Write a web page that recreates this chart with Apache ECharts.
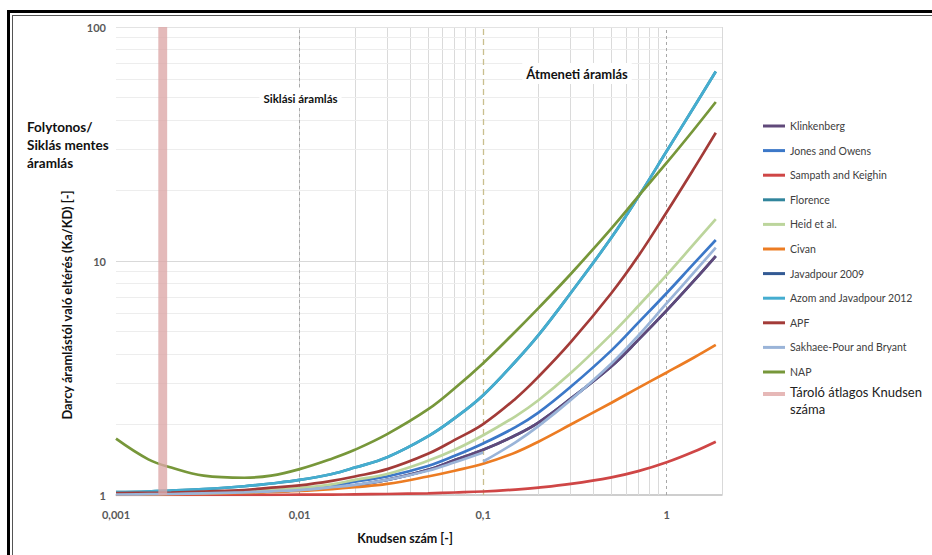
<!DOCTYPE html>
<html><head><meta charset="utf-8">
<script src="https://cdn.jsdelivr.net/npm/echarts@6/dist/echarts.min.js"></script>
<style>
html,body{margin:0;padding:0;background:#fff;}
#wrap{position:relative;width:932px;height:555px;overflow:hidden;background:#fff;}
#chart{position:absolute;left:0;top:0;width:932px;height:555px;}
.f1{position:absolute;left:7px;top:10px;width:2000px;height:2000px;border-top:3px solid #000;border-left:3px solid #000;}
.f2{position:absolute;left:12px;top:15px;width:2000px;height:2000px;border-top:1px solid #555;border-left:1px solid #555;}
</style></head><body>
<div id="wrap"><div class="f1"></div><div class="f2"></div><div id="chart"></div></div>
<script>
// ---- data ----
const knudsen = [0.001, 0.0015, 0.002, 0.003, 0.005, 0.007, 0.01, 0.015, 0.02, 0.03, 0.05, 0.07, 0.1, 0.15, 0.2, 0.3, 0.5, 0.7, 1, 1.4, 1.85];

const klinkenberg = [1.005, 1.007, 1.01, 1.015, 1.025, 1.035, 1.05, 1.075, 1.10, 1.16, 1.28, 1.41, 1.56, 1.8, 2.04, 2.58, 3.55, 4.6, 6.15, 8.2, 10.5];
const jonesOwens  = [1.01, 1.01, 1.012, 1.018, 1.03, 1.04, 1.06, 1.09, 1.14, 1.20, 1.33, 1.47, 1.66, 1.95, 2.25, 2.9, 4.15, 5.45, 7.3, 9.72, 12.3];
const sampath     = [1.0, 1.0, 1.0, 1.0, 1.001, 1.002, 1.003, 1.004, 1.006, 1.01, 1.017, 1.025, 1.035, 1.055, 1.075, 1.115, 1.19, 1.265, 1.38, 1.53, 1.69];
const florence    = [1.03, 1.035, 1.045, 1.06, 1.09, 1.12, 1.16, 1.23, 1.31, 1.45, 1.78, 2.13, 2.67, 3.72, 4.82, 7.3, 12.6, 18.8, 29.5, 45.2, 64.5];
const heid        = [1.01, 1.012, 1.015, 1.02, 1.035, 1.05, 1.07, 1.11, 1.16, 1.23, 1.40, 1.56, 1.80, 2.17, 2.54, 3.32, 4.87, 6.42, 8.72, 11.77, 15.1];
const civan       = [1.005, 1.006, 1.008, 1.012, 1.02, 1.03, 1.04, 1.06, 1.08, 1.115, 1.20, 1.27, 1.36, 1.52, 1.69, 2.0, 2.48, 2.87, 3.34, 3.86, 4.38];
const javadpour   = [1.005, 1.007, 1.01, 1.015, 1.025, 1.035, 1.05, 1.075, 1.10, 1.16, 1.28, 1.41, 1.56, 1.8, 2.04, 2.58, 3.55, 4.6, 6.15, 8.2, 10.5];
const azom        = [1.03, 1.035, 1.045, 1.06, 1.09, 1.12, 1.16, 1.23, 1.31, 1.45, 1.78, 2.13, 2.67, 3.72, 4.82, 7.3, 12.6, 18.8, 29.5, 45.2, 64.5];
const apf         = [1.02, 1.022, 1.025, 1.035, 1.05, 1.075, 1.10, 1.15, 1.20, 1.29, 1.50, 1.72, 2.01, 2.58, 3.2, 4.5, 7.3, 10.5, 16.2, 24.7, 35.3];
// Sakhaee-Pour and Bryant: two branches meeting at Kn = 0.1 (knudsen[0..12] and knudsen[12..20])
const sakhaeeLow  = [1.005, 1.008, 1.01, 1.016, 1.026, 1.037, 1.05, 1.08, 1.105, 1.16, 1.27, 1.38, 1.52];
const sakhaeeHigh = [1.39, 1.68, 1.97, 2.55, 3.65, 4.8, 6.6, 8.9, 11.4];
const nap         = [1.74, 1.42, 1.31, 1.21, 1.185, 1.21, 1.29, 1.43, 1.56, 1.82, 2.32, 2.86, 3.66, 5.0, 6.29, 8.8, 13.8, 18.9, 26.3, 36.3, 47.8];

const reservoirBand = [0.0017, 0.0019];

const xTickValues = [0.001, 0.01, 0.1, 1];
const xTickLabels = ['0,001', '0,01', '0,1', '1'];
const yTickValues = [1, 10, 100];
const yTickLabels = ['1', '10', '100'];

const seriesNames = ['Klinkenberg', 'Jones and Owens', 'Sampath and Keighin', 'Florence', 'Heid et al.', 'Civan', 'Javadpour 2009', 'Azom and Javadpour 2012', 'APF', 'Sakhaee-Pour and Bryant', 'NAP'];
const bandName = 'Tároló átlagos Knudsen száma';

// ---- styling ----
const FONT = 'Lato, "Open Sans", sans-serif';
const colors = {
  'Klinkenberg': '#60497a',
  'Jones and Owens': '#3c78c8',
  'Sampath and Keighin': '#cf4646',
  'Florence': '#31859c',
  'Heid et al.': '#bcd59c',
  'Civan': '#ec7c23',
  'Javadpour 2009': '#335a94',
  'Azom and Javadpour 2012': '#45add0',
  'APF': '#a33b38',
  'Sakhaee-Pour and Bryant': '#9ab4d8',
  'NAP': '#77973a'
};
const zOf = {'Florence': 2, 'Javadpour 2009': 2};

function pairs(xs, ys) { return xs.map((x, i) => [x, ys[i]]); }

function curve(name, data) {
  return {
    name: name, type: 'line', data: data, showSymbol: false, symbol: 'none',
    smooth: 0.4, z: zOf[name] || 3, silent: true,
    lineStyle: {color: colors[name], width: 2.7},
    itemStyle: {color: colors[name]},
    emphasis: {disabled: true}
  };
}

const lowKn = knudsen.slice(0, 13);
const highKn = knudsen.slice(12);

// grid lines (minor decades)
const mult = [2, 3, 4, 5, 6, 7, 8, 9];
const gridMarks = [];
[0.001, 0.01, 0.1].forEach(d => mult.forEach(m => gridMarks.push({xAxis: +(d * m).toPrecision(3), lineStyle: {color: '#dadada', width: 1, type: 'solid'}})));
gridMarks.push({xAxis: 2, lineStyle: {color: '#d9d9d9', width: 1, type: 'solid'}});
[1, 10].forEach(d => mult.forEach(m => gridMarks.push({yAxis: d * m, lineStyle: {color: '#ededed', width: 1, type: 'solid'}})));
gridMarks.push({yAxis: 10, lineStyle: {color: '#d9d9d9', width: 1, type: 'solid'}});
gridMarks.push({yAxis: 100, lineStyle: {color: '#e3e3e3', width: 1, type: 'solid'}});
gridMarks.push({xAxis: 0.001, lineStyle: {color: '#c9bf8f', width: 1.3, type: [6, 4]}});
gridMarks.push({xAxis: 0.01, lineStyle: {color: '#a8a8a8', width: 1, type: [3, 3]}});
gridMarks.push({xAxis: 0.1, lineStyle: {color: '#c9bf8f', width: 1.3, type: [6, 4]}});
gridMarks.push({xAxis: 1, lineStyle: {color: '#a8a8a8', width: 1, type: [3, 3]}});

const series = [
  {name: '_grid', type: 'line', data: [], z: 1, silent: true,
   markLine: {silent: true, z: 1, symbol: ['none', 'none'], label: {show: false}, animation: false, data: gridMarks}},
  curve('Klinkenberg', pairs(knudsen, klinkenberg)),
  curve('Jones and Owens', pairs(knudsen, jonesOwens)),
  curve('Sampath and Keighin', pairs(knudsen, sampath)),
  curve('Florence', pairs(knudsen, florence)),
  curve('Heid et al.', pairs(knudsen, heid)),
  curve('Civan', pairs(knudsen, civan)),
  curve('Javadpour 2009', pairs(knudsen, javadpour)),
  curve('Azom and Javadpour 2012', pairs(knudsen, azom)),
  curve('APF', pairs(knudsen, apf)),
  curve('Sakhaee-Pour and Bryant', pairs(lowKn, sakhaeeLow)),
  curve('Sakhaee-Pour and Bryant', pairs(highKn, sakhaeeHigh)),
  curve('NAP', pairs(knudsen, nap)),
  {name: bandName, type: 'line', data: [], silent: true,
   lineStyle: {color: '#e6b8b7', width: 5}, itemStyle: {color: '#e6b8b7'},
   markArea: {silent: true, z: 10, itemStyle: {color: 'rgba(221,166,166,0.78)'},
     data: [[{xAxis: reservoirBand[0]}, {xAxis: reservoirBand[1]}]]}}
];

function tickLabel(values, labels) {
  return function (v) {
    for (let i = 0; i < values.length; i++) {
      if (Math.abs(Math.log10(v) - Math.log10(values[i])) < 1e-6) return labels[i];
    }
    return '';
  };
}

const chart = echarts.init(document.getElementById('chart'), null, {renderer: 'svg'});
chart.setOption({
  animation: false,
  backgroundColor: 'transparent',
  textStyle: {fontFamily: FONT},
  grid: {left: 116, top: 27, right: 210, bottom: 60, containLabel: false},
  xAxis: {
    type: 'log', logBase: 10, min: 0.001, max: 2,
    axisLine: {show: true, lineStyle: {color: '#bfbfbf', width: 1.5}},
    axisTick: {show: false},
    splitLine: {show: false}, minorSplitLine: {show: false},
    axisLabel: {formatter: tickLabel(xTickValues, xTickLabels), margin: 14, color: '#595959',
      fontFamily: FONT, fontSize: 11, fontWeight: 'bold', showMaxLabel: false}
  },
  yAxis: {
    type: 'log', logBase: 10, min: 1, max: 100,
    axisLine: {show: false}, axisTick: {show: false},
    splitLine: {show: false},
    axisLabel: {formatter: tickLabel(yTickValues, yTickLabels), margin: 10, color: '#595959',
      fontFamily: FONT, fontSize: 11, fontWeight: 'bold'}
  },
  legend: [
    {data: seriesNames, orient: 'vertical', left: 763, top: 119, padding: 0,
     itemWidth: 22, itemHeight: 3, itemGap: 10.6, icon: 'rect', selectedMode: false,
     textStyle: {fontFamily: FONT, fontSize: 10.5, lineHeight: 14, color: '#404040'}},
    {data: [bandName], orient: 'vertical', left: 763, top: 376, padding: 0,
     itemWidth: 22, itemHeight: 4, icon: 'rect', selectedMode: false,
     formatter: () => '{s| }\n{a|Tároló átlagos Knudsen}\n{a|száma}',
     textStyle: {fontFamily: FONT, fontSize: 13, color: '#222',
       rich: {s: {fontSize: 2, lineHeight: 12}, a: {fontFamily: FONT, fontSize: 13, lineHeight: 17, color: '#222'}}}}
  ],
  graphic: [
    {type: 'text', x: 27, y: 118, z: 100, silent: true,
     style: {text: 'Folytonos/\nSiklás mentes\náramlás', font: 'bold 13.5px ' + FONT, lineHeight: 18, fill: '#111'}},
    {type: 'text', x: 300.5, y: 98, z: 100, silent: true,
     style: {text: 'Siklási áramlás', font: 'bold 11.5px ' + FONT, fill: '#111', align: 'center', verticalAlign: 'middle',
       backgroundColor: '#fff', padding: [4, 4]}},
    {type: 'text', x: 577, y: 73.5, z: 100, silent: true,
     style: {text: 'Átmeneti áramlás', font: 'bold 13px ' + FONT, fill: '#111', align: 'center', verticalAlign: 'middle',
       backgroundColor: '#fff', padding: [4, 4]}},
    {type: 'text', x: 67, y: 305, rotation: Math.PI / 2, z: 100, silent: true,
     style: {text: 'Darcy áramlástól való eltérés (Ka/KD) [-]', font: 'bold 12.8px ' + FONT, fill: '#111',
       align: 'center', verticalAlign: 'middle'}},
    {type: 'text', x: 405, y: 538, z: 100, silent: true,
     style: {text: 'Knudsen szám [-]', font: 'bold 12.5px ' + FONT, fill: '#111',
       align: 'center', verticalAlign: 'middle'}}
  ],
  series: series
});
</script>
</body></html>
